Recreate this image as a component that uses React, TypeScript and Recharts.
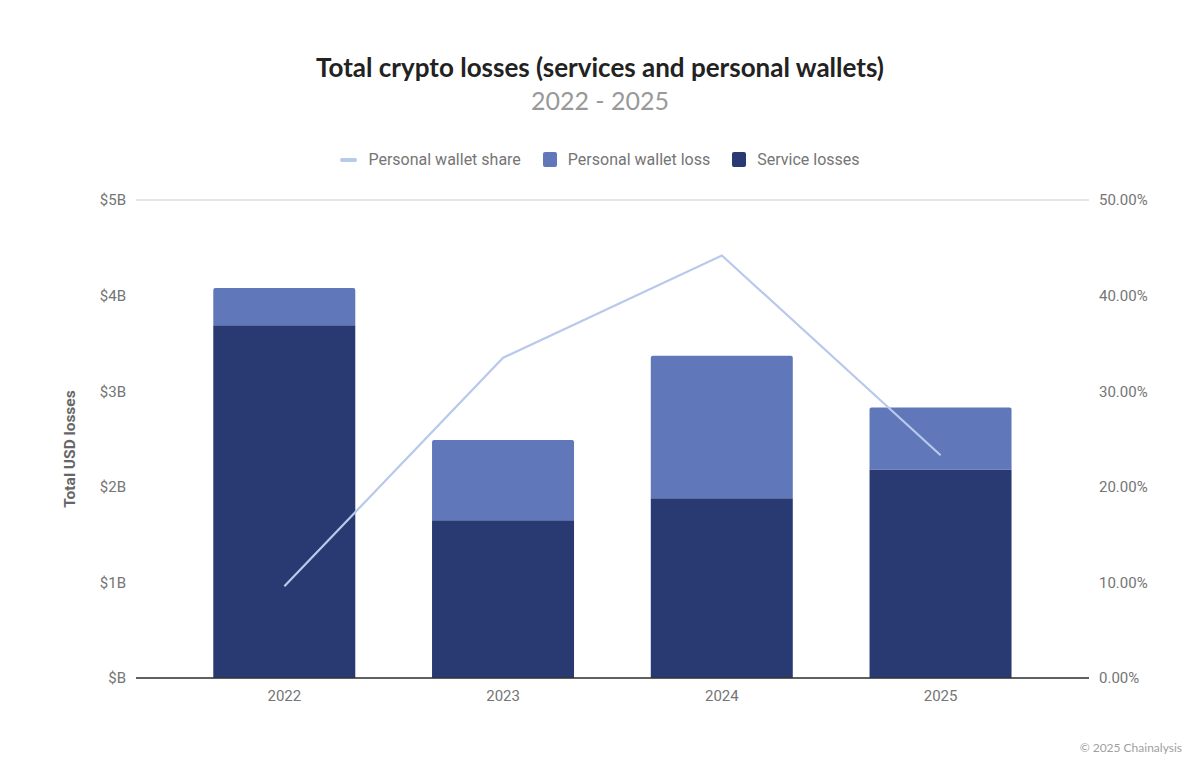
import {
    ComposedChart,
    Bar,
    Line,
    CartesianGrid,
    XAxis,
    YAxis,
} from "recharts";

// values (billions USD / percent)
const years = ["2022", "2023", "2024", "2025"];
const serviceLosses = [3.69, 1.65, 1.88, 2.18];
const personalWalletLoss = [0.39, 0.84, 1.49, 0.65];
const personalWalletShare = [9.6, 33.5, 44.2, 23.3];

const leftTicks = [0, 1, 2, 3, 4, 5];
const rightTicks = [0, 10, 20, 30, 40, 50];

const data = years.map((year, i) => ({
    year,
    service: serviceLosses[i],
    personal: personalWalletLoss[i],
    share: personalWalletShare[i],
}));

const SERVICE = "#293972";
const PERSONAL = "#6077ba";
const SHARE = "#b9c9ec";

const tickStyle = { fill: "#757575", fontSize: 15, fontFamily: "Roboto" };

function LegendItem({ label, color, line }: { label: string; color: string; line?: boolean }) {
    return (
        <div style={{ display: "flex", alignItems: "center", marginRight: 22 }}>
            <span
                style={{
                    display: "inline-block",
                    width: line ? 17 : 14,
                    height: line ? 4 : 15,
                    background: color,
                    borderRadius: 2,
                    marginRight: 11,
                }}
            />
            <span>{label}</span>
        </div>
    );
}

export default function App() {
    return (
        <div
            style={{
                position: "absolute",
                left: 0,
                top: 0,
                width: 1200,
                height: 779,
                background: "#fff",
                fontFamily: "Roboto",
            }}
        >
            <div
                style={{
                    position: "absolute",
                    top: 51,
                    width: "100%",
                    textAlign: "center",
                    fontFamily: "Lato",
                    fontWeight: 700,
                    fontSize: 26,
                    color: "#222",
                }}
            >
                Total crypto losses (services and personal wallets)
            </div>
            <div
                style={{
                    position: "absolute",
                    top: 85,
                    width: "100%",
                    textAlign: "center",
                    fontFamily: "Lato",
                    fontSize: 25,
                    color: "#999",
                }}
            >
                2022 - 2025
            </div>

            <div
                style={{
                    position: "absolute",
                    top: 150,
                    width: "100%",
                    display: "flex",
                    justifyContent: "center",
                    fontSize: 16,
                    color: "#757575",
                    paddingLeft: 22,
                    boxSizing: "border-box",
                }}
            >
                <LegendItem label="Personal wallet share" color={SHARE} line />
                <LegendItem label="Personal wallet loss" color={PERSONAL} />
                <LegendItem label="Service losses" color={SERVICE} />
            </div>

            <div
                style={{
                    position: "absolute",
                    left: 70,
                    top: 449,
                    transform: "translate(-50%, -50%) rotate(-90deg)",
                    whiteSpace: "nowrap",
                    fontSize: 15.5,
                    fontWeight: 700,
                    color: "#666",
                }}
            >
                Total USD losses
            </div>

            <ComposedChart
                width={1200}
                height={779}
                data={data}
                margin={{ top: 200, right: 31, bottom: 71, left: 60 }}
                barCategoryGap="17.5%"
            >
                <CartesianGrid vertical={false} stroke="#cccccc" strokeWidth={1.2} />
                <XAxis
                    dataKey="year"
                    padding={{ left: 39, right: 39 }}
                    axisLine={{ stroke: "#333", strokeWidth: 1.5 }}
                    tickLine={false}
                    tick={tickStyle}
                    tickMargin={6}
                    height={30}
                />
                <YAxis
                    yAxisId="left"
                    domain={[0, 5]}
                    ticks={leftTicks}
                    axisLine={false}
                    tickLine={false}
                    tick={tickStyle}
                    tickMargin={4}
                    width={76}
                    tickFormatter={(v: number) => (v === 0 ? "$B" : `$${v}B`)}
                />
                <YAxis
                    yAxisId="right"
                    orientation="right"
                    domain={[0, 50]}
                    ticks={rightTicks}
                    axisLine={false}
                    tickLine={false}
                    tick={{ ...tickStyle, textAnchor: "start" }}
                    tickMargin={4}
                    width={80}
                    tickFormatter={(v: number) => `${v.toFixed(2)}%`}
                />
                <Bar
                    yAxisId="left"
                    dataKey="service"
                    stackId="a"
                    fill={SERVICE}
                    isAnimationActive={false}
                />
                <Bar
                    yAxisId="left"
                    dataKey="personal"
                    stackId="a"
                    fill={PERSONAL}
                    radius={[2, 2, 0, 0]}
                    isAnimationActive={false}
                />
                <Line
                    yAxisId="right"
                    dataKey="share"
                    stroke={SHARE}
                    strokeWidth={2.2}
                    dot={false}
                    activeDot={false}
                    isAnimationActive={false}
                />
            </ComposedChart>

            <div
                style={{
                    position: "absolute",
                    right: 18,
                    top: 740,
                    fontFamily: "Lato",
                    fontSize: 12,
                    color: "#a0a0a0",
                }}
            >
                © 2025 Chainalysis
            </div>
        </div>
    );
}
